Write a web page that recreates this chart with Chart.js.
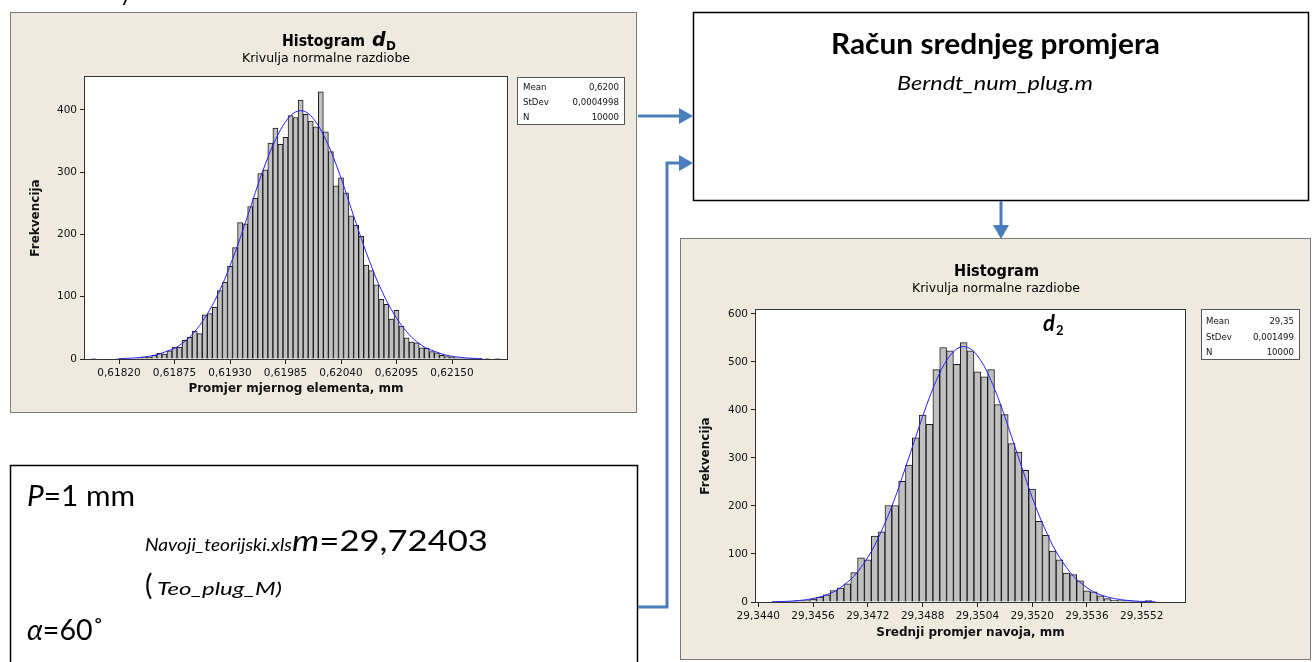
<!DOCTYPE html>
<html><head><meta charset="utf-8">
<title>Histogrami</title>
<script src="https://cdn.jsdelivr.net/npm/chart.js@4.4.1/dist/chart.umd.min.js"></script>
<style>
html,body{margin:0;padding:0;background:#fff;}
#page{position:relative;width:1314px;height:662px;overflow:hidden;background:#fff;}
.panel{position:absolute;background:#EEEAE0;box-shadow:inset 0 0 0 1px #7a7a7a;}
.panel canvas{position:absolute;left:0;top:0;}
#ov{position:absolute;left:0;top:0;}
</style></head>
<body><div id="page">
<div class="panel" style="left:10px;top:12px;width:627px;height:401px;"><canvas id="cL" width="627" height="401"></canvas></div>
<div class="panel" style="left:680px;top:238px;width:631px;height:422px;"><canvas id="cR" width="631" height="422"></canvas></div>
<svg id="ov" width="1314" height="662" xmlns="http://www.w3.org/2000/svg">
  <text x="120" y="1" font-family="Lato" font-size="22">y</text>
  <!-- left titles -->
  <text x="282" y="46" font-family="DejaVu Sans" font-weight="bold" font-size="15" textLength="83" lengthAdjust="spacingAndGlyphs">Histogram</text>
  <text x="372" y="46" font-family="DejaVu Sans" font-weight="bold" font-style="italic" font-size="19">d</text>
  <text x="386" y="50" font-family="DejaVu Sans" font-weight="bold" font-size="12">D</text>
  <text x="326" y="62" text-anchor="middle" font-family="DejaVu Sans" font-size="12.5" textLength="168" lengthAdjust="spacingAndGlyphs">Krivulja normalne razdiobe</text>
  <g id="statL"></g>
  <!-- right titles -->
  <text x="954" y="276" font-family="DejaVu Sans" font-weight="bold" font-size="15" textLength="85" lengthAdjust="spacingAndGlyphs">Histogram</text>
  <text x="996" y="292" text-anchor="middle" font-family="DejaVu Sans" font-size="12.5" textLength="168" lengthAdjust="spacingAndGlyphs">Krivulja normalne razdiobe</text>
  <text x="1043" y="331" font-family="Lato" font-weight="bold" font-style="italic" font-size="22">d</text>
  <text x="1056" y="335" font-family="Lato" font-weight="bold" font-size="13">2</text>
  <g id="statR"></g>
  <!-- word boxes -->
  <rect x="693.5" y="12.5" width="615" height="188" fill="#fff" stroke="#000" stroke-width="1.5"/>
  <text x="831" y="54" font-family="Lato" font-weight="bold" font-size="28" textLength="329" lengthAdjust="spacingAndGlyphs">Račun srednjeg promjera</text>
  <text x="897" y="90" font-family="Lato" font-style="italic" font-size="20" textLength="196" lengthAdjust="spacingAndGlyphs">Berndt_num_plug.m</text>
  <rect x="10.5" y="465.5" width="627" height="230" fill="#fff" stroke="#000" stroke-width="1.5"/>
  <text x="27" y="506" font-family="Lato" font-size="28" textLength="108" lengthAdjust="spacingAndGlyphs"><tspan font-style="italic">P</tspan>=1 mm</text>
  <text x="145" y="551" font-family="Lato" font-style="italic" font-size="18" textLength="147" lengthAdjust="spacingAndGlyphs">Navoji_teorijski.xls</text>
  <text x="292" y="551" font-family="Lato" font-size="28" textLength="196" lengthAdjust="spacingAndGlyphs"><tspan font-style="italic">m</tspan>=29,72403</text>
  <text x="145" y="595" font-family="Lato" font-size="28">(</text>
  <text x="157" y="595" font-family="Lato" font-style="italic" font-size="18" textLength="125" lengthAdjust="spacingAndGlyphs">Teo_plug_M)</text>
  <text x="27" y="640" font-family="Lato" font-size="28" textLength="77" lengthAdjust="spacingAndGlyphs"><tspan font-style="italic">α</tspan>=60˚</text>
  <!-- arrows -->
  <g stroke="#4A7EBB" stroke-width="3" fill="none">
    <line x1="638" y1="116" x2="681" y2="116"/>
    <polyline points="638,607 667,607 667,163 681,163"/>
    <line x1="1001" y1="201" x2="1001" y2="227"/>
  </g>
  <g fill="#4A7EBB">
    <polygon points="679,108 693,116 679,124"/>
    <polygon points="679,155 693,163 679,171"/>
    <polygon points="993,225 1009,225 1001,239"/>
  </g>
</svg>
</div>
<script>
// ---------- data: left histogram (d_D) ----------
const binStartL = 0.61795;   // centre of first bin
const binWidthL = 0.00005;
const countsL = [1,0,0,0,0, 1,0,0,0,2, 3,3,6,9,8, 13,19,19,30,35, 45,41,71,73,83,
  110,123,149,179,219, 217,245,258,298,304, 347,371,345,356,391, 388,416,393,382,373,
  429,365,333,278,291, 267,230,215,197,151, 142,119,96,88,64, 78,53,34,27,26,
  18,17,12,10,6, 4,3,2,1,1, 1,0,0,1,0, 1];
const curveStartL = 0.61820;
const curveL = [0.6,0.9,1.2,1.7,2.4,3.3,4.4,6,8,11,14,17,22,28,35,44,54,66,79,94,
  111,129,150,171,194,218,242,267,291,313,334,352,368,381,391,397,399,
  397,391,381,368,352,334,313,291,267,242,218,194,171,150,129,111,94,79,66,
  54,44,35,28,22,17,14,11,8,6,4.4,3.3,2.4,1.7,1.2,0.9,0.6];
const xTickValsL = [0.61820,0.61875,0.61930,0.61985,0.62040,0.62095,0.62150];
const xTickLabelsL = ['0,61820','0,61875','0,61930','0,61985','0,62040','0,62095','0,62150'];
const yTickValsL = [0,100,200,300,400];
const statsL = [['Mean','0,6200'],['StDev','0,0004998'],['N','10000']];

// ---------- data: right histogram (d_2) ----------
const binStartR = 29.3440;
const binWidthR = 0.0002;
const countsR = [0,0,0,1,1, 2,3,3,6,10, 15,24,29,38,61, 92,88,137,146,201,
  201,251,285,342,389, 370,484,530,523,495, 540,523,479,469,484,
  411,390,330,312,274, 235,168,139,106,88, 60,57,44,23,21, 13,7,4,3,3, 2,1,3];
const curveStartR = 29.3444;
const curveR = [0.5,0.8,1.3,2,3.2,4.8,7.2,10.5,15,21,30,41,54,72,93,118,148,181,218,259,
  301,344,386,426,461,491,513,527,532,527,513,491,461,426,386,344,301,259,218,181,
  148,118,93,72,54,41,30,21,15,10.5,7.2,4.8,3.2,2,1.3,0.8,0.5];
const xTickValsR = [29.3440,29.3456,29.3472,29.3488,29.3504,29.3520,29.3536,29.3552];
const xTickLabelsR = ['29,3440','29,3456','29,3472','29,3488','29,3504','29,3520','29,3536','29,3552'];
const yTickValsR = [0,100,200,300,400,500,600];
const statsR = [['Mean','29,35'],['StDev','0,001499'],['N','10000']];

// ---------- stat boxes ----------
function statBox(id, x, y, w, h, rows, lx, vx, base, step){
  const g = document.getElementById(id), NS='http://www.w3.org/2000/svg';
  const r = document.createElementNS(NS,'rect');
  r.setAttribute('x',x+0.5); r.setAttribute('y',y+0.5); r.setAttribute('width',w); r.setAttribute('height',h);
  r.setAttribute('fill','#fff'); r.setAttribute('stroke','#555'); g.appendChild(r);
  rows.forEach((row,i)=>{
    [[row[0],lx,'start'],[row[1],vx,'end']].forEach(([t,tx,a])=>{
      const e=document.createElementNS(NS,'text');
      e.setAttribute('x',tx); e.setAttribute('y',base+i*step); e.setAttribute('text-anchor',a);
      e.setAttribute('font-family','DejaVu Sans'); e.setAttribute('font-size','8.6'); e.setAttribute('fill','#111');
      e.textContent=t; g.appendChild(e);
    });
  });
}
statBox('statL',517,77,107,47,statsL,523,619,90,15);
statBox('statR',1201,309,98,50,statsR,1206,1294,324,15.5);

// ---------- charts ----------
const framePlugin = {
  id:'frame',
  beforeDraw(c){const a=c.chartArea,x=c.ctx;x.save();x.fillStyle='#fff';x.fillRect(a.left,a.top,a.right-a.left,a.bottom-a.top);x.restore();},
  afterDraw(c){const a=c.chartArea,x=c.ctx;x.save();x.strokeStyle='#333';x.lineWidth=1;
    x.strokeRect(Math.round(a.left)-0.5,Math.round(a.top)-0.5,Math.round(a.right-a.left)+1,Math.round(a.bottom-a.top)+1);x.restore();}
};
function makeHist(id, o){
  const bars = o.counts.map((c,i)=>({x:o.start+i*o.w, y:c>0?c:null}));
  const line = o.curve.map((c,i)=>({x:o.curveStart+i*o.w, y:c}));
  const tickFont = {family:'DejaVu Sans', size:10.5};
  const titleFont = {family:'DejaVu Sans', size:12, weight:'bold'};
  const grid = {display:true, drawOnChartArea:false, drawTicks:true, tickLength:5, color:'#222', offset:false};
  return new Chart(document.getElementById(id), {
    data:{datasets:[
      {type:'line', data:line, borderColor:'#2222ff', borderWidth:1, pointRadius:0, tension:0.3, order:0},
      {type:'bar', data:bars, backgroundColor:'#c0c0c0', borderColor:'#1a1a1a', borderWidth:1,
       barPercentage:1, categoryPercentage:1, grouped:false, order:1}
    ]},
    options:{
      responsive:false, animation:false, events:[],
      layout:{padding:o.pad},
      plugins:{legend:{display:false}, tooltip:{enabled:false}},
      scales:{
        x:{type:'linear', min:o.xmin, max:o.xmax, offset:false,
          afterBuildTicks:s=>{s.ticks=o.xt.map(v=>({value:v}));},
          afterFit:s=>{s.height=o.xh;},
          ticks:{autoSkip:false, maxRotation:0, minRotation:0, padding:3, color:'#111', font:tickFont,
                 callback:(v,i)=>o.xtl[i]},
          grid:grid, border:{display:false},
          title:{display:true, text:o.xTitle, color:'#111', font:titleFont, padding:{top:2,bottom:4}}},
        y:{type:'linear', min:0, max:o.ymax,
          afterBuildTicks:s=>{s.ticks=o.yt.map(v=>({value:v}));},
          afterFit:s=>{s.width=o.yw;},
          ticks:{padding:3, color:'#111', font:tickFont, callback:v=>String(v)},
          grid:grid, border:{display:false},
          title:{display:true, text:'Frekvencija', color:'#111', font:titleFont, padding:{top:4,bottom:4}}}
      }
    },
    plugins:[framePlugin]
  });
}
makeHist('cL',{counts:countsL,start:binStartL,w:binWidthL,curve:curveL,curveStart:curveStartL,
  xmin:0.617863,xmax:0.622045,ymax:453,xt:xTickValsL,xtl:xTickLabelsL,yt:yTickValsL,
  xTitle:'Promjer mjernog elementa, mm',pad:{left:15,right:130,top:65,bottom:13},yw:60,xh:41});
makeHist('cR',{counts:countsR,start:binStartR,w:binWidthR,curve:curveR,curveStart:curveStartR,
  xmin:29.343933,xmax:29.356465,ymax:608,xt:xTickValsR,xtl:xTickLabelsR,yt:yTickValsR,
  xTitle:'Srednji promjer navoja, mm',pad:{left:15,right:126,top:72,bottom:16},yw:61,xh:42});
</script>
</body></html>
